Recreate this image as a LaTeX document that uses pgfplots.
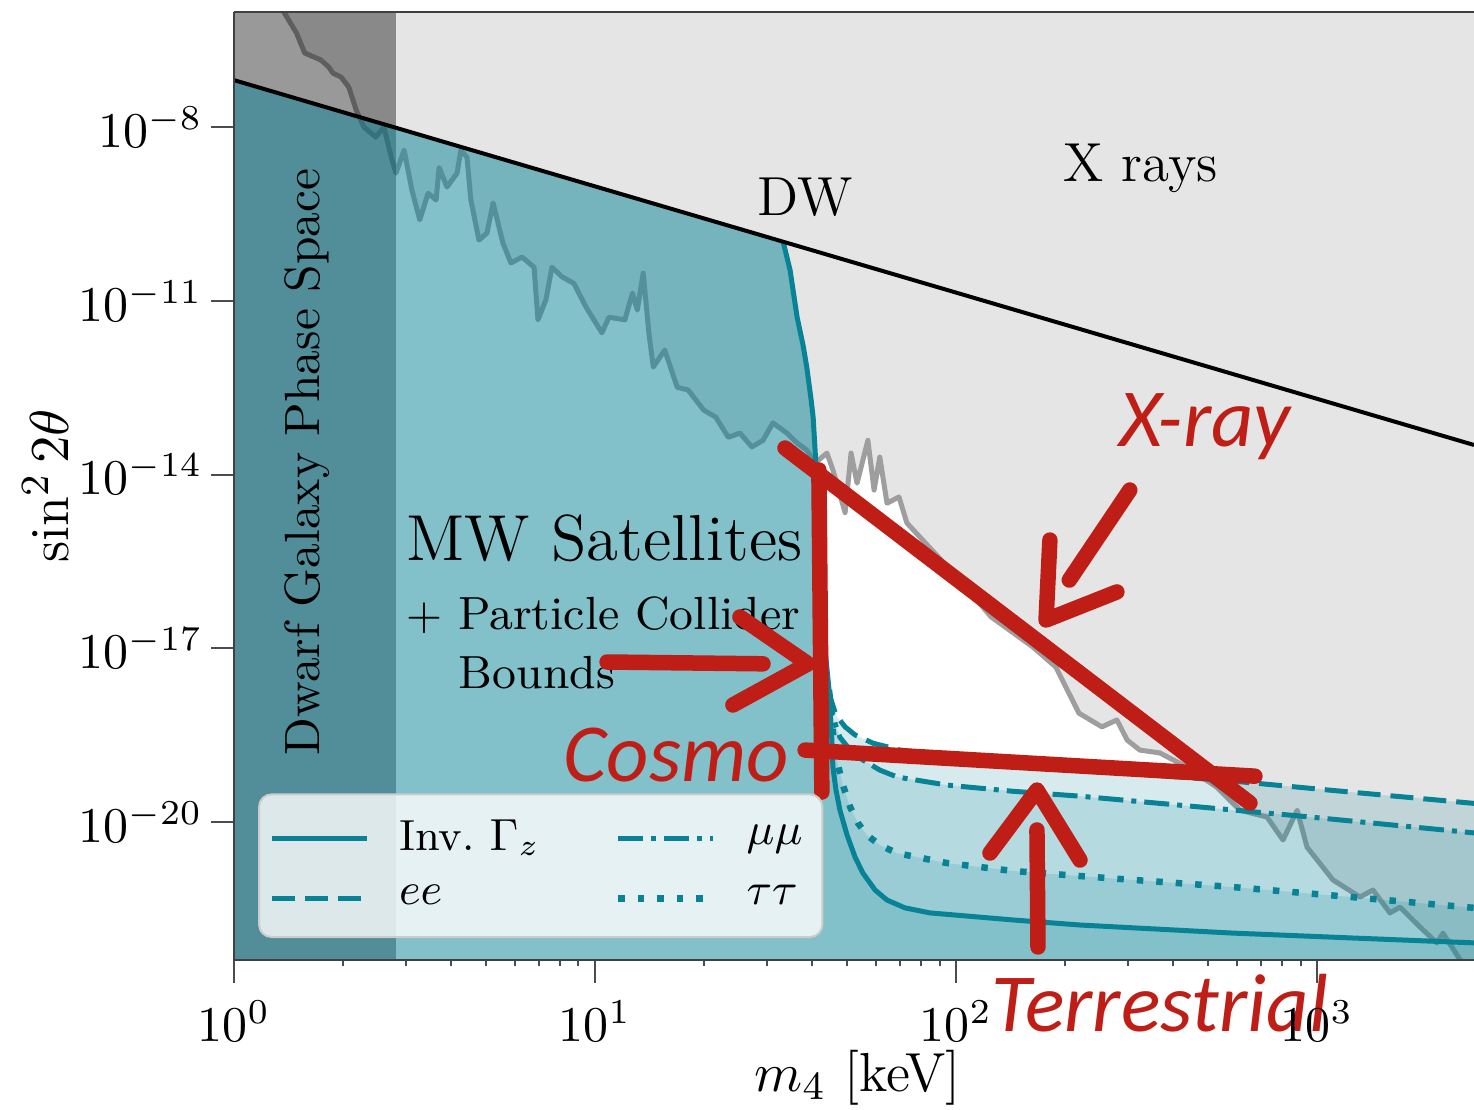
\documentclass[border=0pt]{standalone}
\usepackage{pgfplots}
\pgfplotsset{compat=1.18}
\usepackage{fontspec}
\newfontfamily\annfont{Carlito}

\definecolor{tealc}{RGB}{17,135,155}
\definecolor{tealline}{RGB}{8,131,150}
\definecolor{xraygrey}{RGB}{229,229,229}
\definecolor{annred}{RGB}{190,30,22}

\pgfplotsset{
  ann/.style={annred, line width=3.1pt, line cap=round, line join=round, forget plot},
  collfill/.style={fill=tealc, fill opacity=0.17, draw=none, forget plot},
  coll/.style={tealline, line width=1pt, forget plot},
}

\begin{document}
\begin{tikzpicture}
\begin{axis}[
  name=ax,
  scale only axis, width=248pt, height=189.6pt,
  xmode=log, ymode=log,
  xmin=1, xmax=2722, ymin=4.15e-23, ymax=9.7e-7,
  axis x line*=box, axis y line*=left,
  axis line style={black!75, line width=0.5pt},
  axis on top,
  xtick={1,10,100,1000},
  ytick={1e-20,1e-17,1e-14,1e-11,1e-8},
  yminorticks=false,
  xtick pos=bottom, ytick pos=left,
  tick align=outside,
  major tick length=4.6pt, minor tick length=1.2pt,
  every tick/.style={black!70, line width=0.4pt},
  tick label style={font=\fontsize{9.6}{11}\selectfont},
  yticklabel style={inner sep=1.5pt},
  xlabel={$m_4$ [keV]}, ylabel={$\sin^2 2\theta$},
  every axis x label/.style={at={(axis description cs:0.503,-0.1245)}, anchor=center, font=\fontsize{11}{13}\selectfont},
  every axis y label/.style={at={(axis description cs:-0.152,0.5)}, rotate=90, anchor=center, font=\fontsize{11}{13}\selectfont},
  clip mode=individual,
  legend columns=2,
  legend cell align=left,
  legend style={at={(0.0194,0.0232)}, anchor=south west,
     fill=white, fill opacity=0.8, text opacity=1, draw=black!20, draw opacity=1,
     rounded corners=2.5pt, font=\fontsize{8.7}{10}\selectfont,
     inner xsep=2pt, inner ysep=3pt,
     /tikz/every even column/.append style={column sep=13pt},
     /tikz/every odd column/.append style={column sep=4pt},
     row sep=1.5pt},
  legend image code/.code={\draw[#1] (0pt,0pt) -- (19pt,0pt);},
]
\addlegendimage{tealline, line width=1pt}
\addlegendentry{Inv.~$\Gamma_z$}
\addlegendimage{tealline, line width=1pt, dash pattern=on 5pt off 1.6pt on 1pt off 1.6pt}
\addlegendentry{$\mu\mu$}
\addlegendimage{tealline, line width=1pt, dash pattern=on 4.6pt off 2pt}
\addlegendentry{$ee$}
\addlegendimage{tealline, line width=1.3pt, dash pattern=on 1.3pt off 2.6pt}
\addlegendentry{$\tau\tau$}

% X-ray excluded region (above the X-ray limit)
\addplot[fill=xraygrey, draw=none, forget plot] coordinates {
(1.36,1.2e-6) (1.38,9.3e-7) (1.49,4.2e-7) (1.57,1.9e-7) (1.74,1.44e-7) (1.83,1.09e-7) (1.88,8.55e-8) (1.98,7.3e-8) (2.08,4.9e-8) (2.18,1.97e-8) (2.29,1e-8) (2.47,6.7e-9) (2.60,1e-8) (2.74,2.7e-9) (2.81,1.6e-9) (2.96,4.0e-9) (3.11,8.2e-10) (3.27,2.5e-10) (3.45,7.2e-10) (3.63,5.5e-10) (3.70,2.0e-9) (3.89,9.2e-10) (4.15,1.6e-9) (4.25,4.0e-9) (4.42,3.0e-9) (4.53,5.5e-10) (4.77,1.12e-10) (5.02,1.48e-10) (5.22,4.9e-10) (5.56,9.9e-11) (5.85,4.5e-11) (6.28,5.7e-11) (6.78,3.8e-11) (6.95,4.7e-12) (7.31,1.03e-11) (7.60,3.8e-11) (8.10,2.6e-11) (8.74,2.0e-11) (9.44,7.8e-12) (10.45,2.8e-12) (10.93,5.2e-12) (12.1,4.7e-12) (12.7,1.36e-11) (13.1,6.9e-12) (13.6,3.0e-11) (14.1,2.8e-12) (14.5,7.2e-13) (15.6,1.41e-12) (16.9,3.2e-13) (18.1,2.9e-13) (20.0,1.3e-13) (21.6,9.8e-14) (23.4,4.4e-14) (25.2,5.2e-14) (27.2,3.0e-14) (29.2,3.9e-14) (31.1,7.8e-14) (34.0,5.2e-14) (36.3,3.5e-14) (38.6,2.65e-14) (40.7,1.58e-14) (43.9,2.35e-14) (45.6,1.2e-14) (49.3,2.2e-15) (51.2,2.35e-14) (53.2,7.1e-15) (57.0,3.9e-14) (59.3,5.4e-15) (61.5,2.0e-14) (64.4,3.2e-15) (69.5,4.1e-15) (73.1,1.46e-15) (84.7,5.4e-16) (102.6,1.5e-16) (125,3.5e-17) (163.4,1.05e-17) (189,4.75e-18) (219,7.6e-19) (253.6,4.4e-19) (279,5.8e-19) (298,2.6e-19) (323,1.75e-19) (367,1.56e-19) (436.5,8.9e-20) (528,4.0e-20) (612,1.6e-20) (727,1.22e-20) (805,4.9e-21) (881,1.6e-20) (938,3.7e-21) (1107,1.0e-21) (1315,5.1e-22) (1429,6.7e-22) (1592,2.7e-22) (1698,3.4e-22) (1929,1.54e-22) (2148,8.2e-23) (2233,1.21e-22) (2489,4.2e-23) (2900,2.2e-23)
(2900,2e-6)} -- cycle;

% X-ray limit
\addplot[black!38, line width=1pt, line join=round, forget plot] coordinates {
(1.36,1.2e-6) (1.38,9.3e-7) (1.49,4.2e-7) (1.57,1.9e-7) (1.74,1.44e-7) (1.83,1.09e-7) (1.88,8.55e-8) (1.98,7.3e-8) (2.08,4.9e-8) (2.18,1.97e-8) (2.29,1e-8) (2.47,6.7e-9) (2.60,1e-8) (2.74,2.7e-9) (2.81,1.6e-9) (2.96,4.0e-9) (3.11,8.2e-10) (3.27,2.5e-10) (3.45,7.2e-10) (3.63,5.5e-10) (3.70,2.0e-9) (3.89,9.2e-10) (4.15,1.6e-9) (4.25,4.0e-9) (4.42,3.0e-9) (4.53,5.5e-10) (4.77,1.12e-10) (5.02,1.48e-10) (5.22,4.9e-10) (5.56,9.9e-11) (5.85,4.5e-11) (6.28,5.7e-11) (6.78,3.8e-11) (6.95,4.7e-12) (7.31,1.03e-11) (7.60,3.8e-11) (8.10,2.6e-11) (8.74,2.0e-11) (9.44,7.8e-12) (10.45,2.8e-12) (10.93,5.2e-12) (12.1,4.7e-12) (12.7,1.36e-11) (13.1,6.9e-12) (13.6,3.0e-11) (14.1,2.8e-12) (14.5,7.2e-13) (15.6,1.41e-12) (16.9,3.2e-13) (18.1,2.9e-13) (20.0,1.3e-13) (21.6,9.8e-14) (23.4,4.4e-14) (25.2,5.2e-14) (27.2,3.0e-14) (29.2,3.9e-14) (31.1,7.8e-14) (34.0,5.2e-14) (36.3,3.5e-14) (38.6,2.65e-14) (40.7,1.58e-14) (43.9,2.35e-14) (45.6,1.2e-14) (49.3,2.2e-15) (51.2,2.35e-14) (53.2,7.1e-15) (57.0,3.9e-14) (59.3,5.4e-15) (61.5,2.0e-14) (64.4,3.2e-15) (69.5,4.1e-15) (73.1,1.46e-15) (84.7,5.4e-16) (102.6,1.5e-16) (125,3.5e-17) (163.4,1.05e-17) (189,4.75e-18) (219,7.6e-19) (253.6,4.4e-19) (279,5.8e-19) (298,2.6e-19) (323,1.75e-19) (367,1.56e-19) (436.5,8.9e-20) (528,4.0e-20) (612,1.6e-20) (727,1.22e-20) (805,4.9e-21) (881,1.6e-20) (938,3.7e-21) (1107,1.0e-21) (1315,5.1e-22) (1429,6.7e-22) (1592,2.7e-22) (1698,3.4e-22) (1929,1.54e-22) (2148,8.2e-23) (2233,1.21e-22) (2489,4.2e-23) (2900,2.2e-23)};

% Dwarf galaxy phase-space band
\addplot[fill=black, fill opacity=0.4, draw=none, forget plot] coordinates {
(0.5,1e-25) (2.81,1e-25) (2.81,1e-4) (0.5,1e-4)} -- cycle;

% MW satellites + collider regions (one layer per channel)
\addplot[collfill] coordinates {
(1,6.46e-8) (33.2,1.05e-10) (34.7,3.4e-11) (36.3,5.2e-12) (37.7,1.72e-12) (38.6,7.2e-13) (39.7,1.94e-13) (40.2,9.8e-14) (40.7,2.65e-14) (41.2,7.1e-15) (41.7,7.4e-16) (42.5,6.8e-17) (43.4,9.3e-18) (44.5,1.9e-18)
(44.8,7.9e-19) (45.3,2.6e-19) (45.6,8.9e-20) (46.5,3.6e-20) (47.7,1.6e-20) (49.9,6.0e-21) (52.5,2.5e-21) (55.2,1.32e-21) (59.7,6.7e-22) (64.4,4.5e-22) (72.2,3.3e-22) (84.7,2.7e-22) (143.9,2.04e-22) (220,1.67e-22) (585,1.21e-22) (1234,1.0e-22) (2722,8.2e-23) (2900,8.0e-23)
(2900,1e-24) (1,1e-24)} -- cycle;
\addplot[collfill] coordinates {
(1,6.46e-8) (33.2,1.05e-10) (34.7,3.4e-11) (36.3,5.2e-12) (37.7,1.72e-12) (38.6,7.2e-13) (39.7,1.94e-13) (40.2,9.8e-14) (40.7,2.65e-14) (41.2,7.1e-15) (41.7,7.4e-16) (42.5,6.8e-17) (43.4,9.3e-18) (44.5,1.9e-18)
(44.8,8.6e-19) (45.9,2.6e-19) (47.1,9.7e-20) (48.6,4.35e-20) (50.9,1.82e-20) (53.5,9.6e-21) (56.6,6.0e-21) (61.5,4.0e-21) (68.7,2.9e-21) (94.4,1.96e-21) (143.9,1.43e-21) (220,1.17e-21) (585,7.55e-22) (1234,5.1e-22) (2722,3.3e-22) (2900,3.2e-22)
(2900,1e-24) (1,1e-24)} -- cycle;
\addplot[collfill] coordinates {
(1,6.46e-8) (33.2,1.05e-10) (34.7,3.4e-11) (36.3,5.2e-12) (37.7,1.72e-12) (38.6,7.2e-13) (39.7,1.94e-13) (40.2,9.8e-14) (40.7,2.65e-14) (41.2,7.1e-15) (41.7,7.4e-16) (42.5,6.8e-17) (43.4,9.3e-18) (44.5,1.9e-18)
(45.1,1.05e-18) (45.9,5.8e-19) (47.7,2.9e-19) (50.9,1.75e-19) (55.2,1.18e-19) (61.5,7.9e-20) (68.7,6.0e-20) (94.4,4.35e-20) (143.9,3.4e-20) (220,2.8e-20) (474,1.82e-20) (897,1.27e-20) (2722,6.5e-21) (2900,6.2e-21)
(2900,1e-24) (1,1e-24)} -- cycle;
\addplot[collfill] coordinates {
(1,6.46e-8) (33.2,1.05e-10) (34.7,3.4e-11) (36.3,5.2e-12) (37.7,1.72e-12) (38.6,7.2e-13) (39.7,1.94e-13) (40.2,9.8e-14) (40.7,2.65e-14) (41.2,7.1e-15) (41.7,7.4e-16) (42.5,6.8e-17) (43.4,9.3e-18) (44.5,1.9e-18)
(45.1,1.28e-18) (46.5,7.0e-19) (49.3,4.4e-19) (52.5,3.2e-19) (58.9,2.3e-19) (70.0,1.75e-19) (96.2,1.33e-19) (132.4,1.04e-19) (250.5,7.6e-20) (585,5.1e-20) (1234,3.3e-20) (2722,2.1e-20) (2900,2.05e-20)
(2900,1e-24) (1,1e-24)} -- cycle;

% Collider bound curves
\addplot[coll] coordinates {
(33.2,1.05e-10) (34.7,3.4e-11) (36.3,5.2e-12) (37.7,1.72e-12) (38.6,7.2e-13) (39.7,1.94e-13) (40.2,9.8e-14) (40.7,2.65e-14) (41.2,7.1e-15) (41.7,7.4e-16) (42.5,6.8e-17) (43.4,9.3e-18) (44.5,1.9e-18)
(44.8,7.9e-19) (45.3,2.6e-19) (45.6,8.9e-20) (46.5,3.6e-20) (47.7,1.6e-20) (49.9,6.0e-21) (52.5,2.5e-21) (55.2,1.32e-21) (59.7,6.7e-22) (64.4,4.5e-22) (72.2,3.3e-22) (84.7,2.7e-22) (143.9,2.04e-22) (220,1.67e-22) (585,1.21e-22) (1234,1.0e-22) (2722,8.2e-23) (2900,8.0e-23)};
\addplot[coll, line width=1.3pt, dash pattern=on 1.3pt off 2.6pt] coordinates {
(44.5,1.9e-18)
(44.8,8.6e-19) (45.9,2.6e-19) (47.1,9.7e-20) (48.6,4.35e-20) (50.9,1.82e-20) (53.5,9.6e-21) (56.6,6.0e-21) (61.5,4.0e-21) (68.7,2.9e-21) (94.4,1.96e-21) (143.9,1.43e-21) (220,1.17e-21) (585,7.55e-22) (1234,5.1e-22) (2722,3.3e-22) (2900,3.2e-22)};
\addplot[coll, dash pattern=on 5pt off 1.6pt on 1pt off 1.6pt] coordinates {
(44.5,1.9e-18)
(45.1,1.05e-18) (45.9,5.8e-19) (47.7,2.9e-19) (50.9,1.75e-19) (55.2,1.18e-19) (61.5,7.9e-20) (68.7,6.0e-20) (94.4,4.35e-20) (143.9,3.4e-20) (220,2.8e-20) (474,1.82e-20) (897,1.27e-20) (2722,6.5e-21) (2900,6.2e-21)};
\addplot[coll, dash pattern=on 4.6pt off 2pt] coordinates {
(44.5,1.9e-18)
(45.1,1.28e-18) (46.5,7.0e-19) (49.3,4.4e-19) (52.5,3.2e-19) (58.9,2.3e-19) (70.0,1.75e-19) (96.2,1.33e-19) (132.4,1.04e-19) (250.5,7.6e-20) (585,5.1e-20) (1234,3.3e-20) (2722,2.1e-20) (2900,2.05e-20)};

% Dodelson-Widrow line
\addplot[black, line width=0.8pt, forget plot] coordinates {(1,6.46e-8) (2722,3.24e-14)};

% Region labels
\node[font=\fontsize{11}{13}\selectfont] at (axis cs:38.2,6.2e-10) {DW};
\node[font=\fontsize{11}{13}\selectfont] at (axis cs:325,1.96e-9) {X rays};
\node[rotate=90, font=\fontsize{9.9}{12}\selectfont] at (axis cs:1.59,1.66e-14) {Dwarf Galaxy Phase Space};
\node[anchor=west, inner sep=0pt, font=\fontsize{13}{15}\selectfont] at (axis cs:2.98,8.0e-16) {MW Satellites};
\node[anchor=west, inner sep=0pt, font=\fontsize{9.3}{11}\selectfont] at (axis cs:2.98,3.76e-17) {$+$ Particle Collider};
\node[anchor=west, inner sep=0pt, font=\fontsize{9.3}{11}\selectfont] at (axis cs:4.17,3.74e-18) {Bounds};

% Hand-drawn annotations: allowed window and arrows
\addplot[ann] coordinates {(41.7,1.2e-14) (42.5,3.3e-20)};
\addplot[ann] coordinates {(33.6,2.87e-14) (652,2.13e-20)};
\addplot[ann] coordinates {(38.2,1.75e-19) (673,6.2e-20)};
\addplot[ann] coordinates {(303,5.4e-15) (206,1.51e-16)};
\addplot[ann] coordinates {(182,7.4e-16) (177.6,3.08e-17) (279,9.4e-17)};
\addplot[ann] coordinates {(10.8,5.8e-18) (29.2,5.4e-18)};
\addplot[ann] coordinates {(25.2,3.47e-17) (38.9,5.4e-18) (24.1,1.05e-18)};
\addplot[ann] coordinates {(168.7,6.97e-23) (167.6,7.3e-21)};
\addplot[ann] coordinates {(124.2,2.92e-21) (167.6,3.57e-20) (220.5,2.21e-21)};

\node[text=annred, font=\annfont\itshape\fontsize{16.5}{18}\selectfont] at (axis cs:490,6.6e-14) {X-ray};
\node[text=annred, font=\annfont\itshape\fontsize{16.5}{18}\selectfont] at (axis cs:16.8,1.44e-19) {Cosmo};
\node[text=annred, font=\annfont\itshape\fontsize{16.5}{18}\selectfont] at (axis cs:367,7.5e-24) {Terrestrial};
\end{axis}
\pgfresetboundingbox
\path ([shift={(-46.8pt,-30pt)}]ax.south west) rectangle ([yshift=2.4pt]ax.north east);
\end{tikzpicture}
\end{document}
